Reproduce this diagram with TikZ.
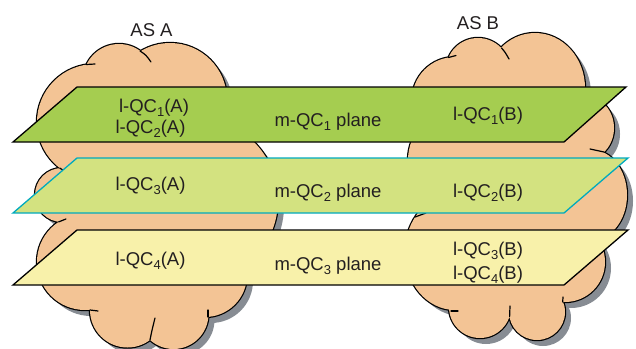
\documentclass[tikz,border=0pt]{standalone}
\usepackage{fontspec}
\setmainfont{Liberation Sans}
\definecolor{cloudfill}{RGB}{243,196,149}
\definecolor{shadowc}{RGB}{135,140,147}
\definecolor{planeA}{RGB}{165,205,80}
\definecolor{planeB}{RGB}{211,226,128}
\definecolor{planeC}{RGB}{248,241,170}
\definecolor{cyanb}{RGB}{0,170,190}
\definecolor{textc}{RGB}{35,31,32}
\newcommand\lsub[1]{\raisebox{-4pt}{\fontsize{13}{13}\selectfont #1}}
\newcommand\cloudAcircles{(95,122) circle[radius=58] (119,80) circle[radius=36]
  (170,100) circle[radius=57] (196,200) circle[radius=82] (205,275) circle[radius=42]
  (173.5,314) circle[radius=35] (127.5,310) circle[radius=37.5] (85,262) circle[radius=48]
  (62,195) circle[radius=27]}
\newcommand\cloudApoly{(119,80) -- (170,100) -- (196,200) -- (205,275) -- (173.5,314)
  -- (127.5,310) -- (85,262) -- (62,195) -- (95,122) -- cycle}
\newcommand\cloudBcircles{(455,100) circle[radius=43] (478,70) circle[radius=32]
  (535,88) ellipse[x radius=50, y radius=55] (585,128) ellipse[x radius=29, y radius=32]
  (592,195) ellipse[x radius=35, y radius=45] (565,262) circle[radius=40]
  (537,312) circle[radius=28] (480,307) circle[radius=31]
  (455,252) ellipse[x radius=50, y radius=58] (460,160) circle[radius=52]}
\newcommand\cloudBpoly{(455,100) -- (478,70) -- (535,88) -- (585,128) -- (592,195)
  -- (565,262) -- (537,312) -- (480,307) -- (455,252) -- (460,160) -- cycle}
\begin{document}
\begin{tikzpicture}[x=1pt,y=-1pt,
  font=\fontsize{18.5}{22}\selectfont,
  txt/.style={anchor=base, inner sep=0pt, text=textc},
  cloudstroke/.style={draw=black, line width=2.4pt},
  tail/.style={draw=black, line width=1.2pt, line cap=round},
  planeline/.style={line width=1.3pt, line join=miter}]
\useasboundingbox (0,0) rectangle (636,348);
% cloud A
\fill[shadowc, shift={(6,6)}] \cloudAcircles;
\fill[shadowc, shift={(6,6)}] \cloudApoly;
\path[cloudstroke] \cloudAcircles;
\fill[cloudfill] \cloudAcircles;
\fill[cloudfill] \cloudApoly;
\path[tail] (86.5,64.5) .. controls (90,63.8) .. (95,64);
\path[tail] (140,51) .. controls (146,55) .. (151,62);
\path[tail] (59.8,168.1) -- (66,172);
\path[tail] (58.6,221.9) -- (66,219);
\path[tail] (90,310) -- (98,311);
\path[tail] (150,340) .. controls (152,330) .. (155,318);
\path[tail] (208,317) -- (208,310);
% cloud B
\fill[shadowc, shift={(6,6)}] \cloudBcircles;
\fill[shadowc, shift={(6,6)}] \cloudBpoly;
\path[cloudstroke] \cloudBcircles;
\fill[cloudfill] \cloudBcircles;
\fill[cloudfill] \cloudBpoly;
\path[tail] (448.5,57.5) -- (456,55.5);
\path[tail] (501.5,48) .. controls (505,52) .. (509,59);
\path[tail] (604,152) .. controls (597,150) .. (590,149);
\path[tail] (415,217) -- (426,213);
\path[tail] (451,311) -- (458,311);
\path[tail] (509.6,316.6) -- (510,306);
\path[tail] (562.7,302) -- (563,297);
% planes
\path[fill=planeA, draw=black, planeline] (77,87) -- (626,87) -- (564,142) -- (13,142) -- cycle;
\path[fill=planeB, draw=cyanb, planeline] (77,158) -- (628,158) -- (564,213) -- (13,213) -- cycle;
\path[fill=planeC, draw=black, planeline] (77,230) -- (628,230) -- (564,285) -- (13,285) -- cycle;
% labels
\node[txt] (asa) at (151.5,36) {AS A};
\node[txt] (asb) at (478,29) {AS B};
\node[txt] (q1a) at (154,112) {l-QC\lsub{1}(A)};
\node[txt] (q2a) at (150.5,133) {l-QC\lsub{2}(A)};
\node[txt] (m1) at (328,126) {m-QC\lsub{1} plane};
\node[txt] (q1b) at (488,120) {l-QC\lsub{1}(B)};
\node[txt] (q3a) at (150.5,190) {l-QC\lsub{3}(A)};
\node[txt] (m2) at (328,197) {m-QC\lsub{2} plane};
\node[txt] (q2b) at (488,197) {l-QC\lsub{2}(B)};
\node[txt] (q4a) at (150.5,265) {l-QC\lsub{4}(A)};
\node[txt] (m3) at (328,270) {m-QC\lsub{3} plane};
\node[txt] (q3b) at (488,255) {l-QC\lsub{3}(B)};
\node[txt] (q4b) at (488,279) {l-QC\lsub{4}(B)};
\end{tikzpicture}
\end{document}
